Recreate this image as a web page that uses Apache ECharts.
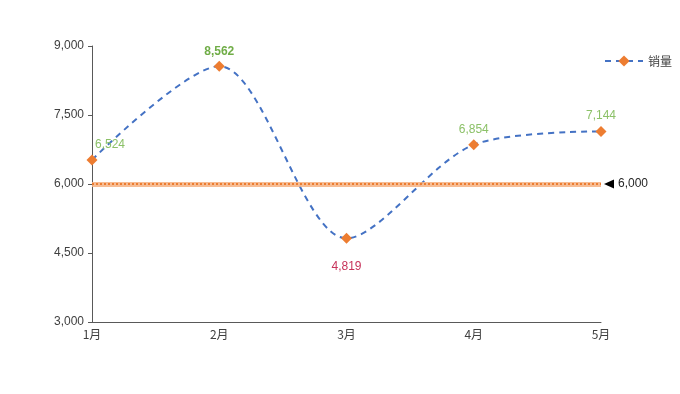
<!DOCTYPE html>
<html><head><meta charset="utf-8">
<script src="https://cdn.jsdelivr.net/npm/echarts@6/dist/echarts.min.js"></script>
<style>html,body{margin:0;padding:0;background:#fff}#c{width:680px;height:394px}</style>
</head><body><div id="c"></div>
<script>
var categories = ['1月','2月','3月','4月','5月'];
var sales = [6524, 8562, 4819, 6854, 7144];
var targetValue = 6000;
var yTicks = [3000, 4500, 6000, 7500, 9000];

var maxV = Math.max.apply(null, sales), minV = Math.min.apply(null, sales);
var fmt = function(v){ return v.toLocaleString('en-US'); };
var dataItems = sales.map(function(v, i){
  var lab = { show: true, position: 'top', distance: 4, color: '#8CC168', fontSize: 12, formatter: function(p){ return fmt(p.value); } };
  if (v === maxV) { lab.color = '#70AD47'; lab.fontWeight = 'bold'; lab.distance = 3; }
  if (v === minV) { lab.color = '#C7325A'; lab.position = 'bottom'; lab.distance = 17; }
  if (i === 0) { lab.offset = [18, 0]; }
  return { value: v, label: lab };
});
var firstCat = categories[0], lastCat = categories[categories.length-1];

var chart = echarts.init(document.getElementById('c'), null, {renderer:'canvas'});
chart.setOption({
  animation: false,
  textStyle: { fontFamily: 'Liberation Sans, Arial, sans-serif' },
  legend: {
    right: 3, top: 50, itemWidth: 38, itemHeight: 14, itemGap: 4,
    textStyle: { color: '#404040', fontSize: 12, fontFamily: 'Noto Sans CJK SC' },
    data: [{ name: '销量' }]
  },
  grid: { left: 92, right: 79, top: 46, bottom: 72 },
  xAxis: {
    type: 'category', data: categories, boundaryGap: false,
    axisLine: { lineStyle: { color: '#595959', width: 1 } },
    axisTick: { show: false },
    axisLabel: { color: '#404040', fontSize: 12, margin: 6, fontFamily: 'Noto Sans CJK SC' }
  },
  yAxis: {
    type: 'value', min: yTicks[0], max: yTicks[yTicks.length-1], interval: 1500,
    axisLine: { show: true, lineStyle: { color: '#595959', width: 1 } },
    axisTick: { show: true, length: 4, lineStyle: { color: '#595959' } },
    splitLine: { show: false },
    axisLabel: { color: '#404040', fontSize: 12, margin: 8, formatter: function(v){ return fmt(v); } }
  },
  series: [{
    name: '销量', type: 'line', smooth: 0.3, data: dataItems,
    symbol: 'diamond', symbolSize: 11,
    itemStyle: { color: '#ED7D31' },
    lineStyle: { color: '#4472C4', width: 2, type: [6, 5] },
    markLine: {
      silent: true, symbol: 'none', label: { show: false },
      data: [
        [{ coord: [firstCat, targetValue], lineStyle: { color: 'rgba(244,177,131,0.85)', width: 5, type: 'solid' } },
         { coord: [lastCat, targetValue] }],
        [{ coord: [firstCat, targetValue], lineStyle: { color: '#ED7D31', width: 2, type: [2, 2] } },
         { coord: [lastCat, targetValue] }]
      ]
    },
    markPoint: {
      silent: true,
      data: [{
        coord: [lastCat, targetValue], value: targetValue,
        symbol: 'triangle', symbolSize: [9, 10], symbolRotate: 90, symbolOffset: [8, 0],
        itemStyle: { color: '#000' },
        label: { show: true, position: 'right', distance: 4, color: '#262626', fontSize: 12, formatter: function(p){ return fmt(p.value); } }
      }]
    }
  }]
});
</script></body></html>
